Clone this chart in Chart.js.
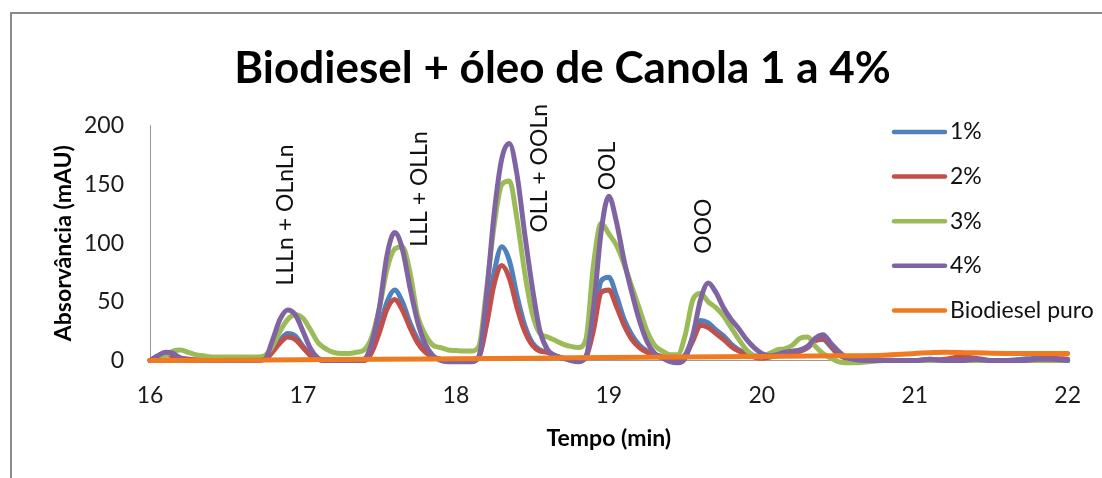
<!DOCTYPE html>
<html>
<head>
<meta charset="utf-8">
<script src="https://cdn.jsdelivr.net/npm/chart.js@4.4.1/dist/chart.umd.min.js"></script>
<style>
  html, body { margin: 0; padding: 0; background: #fff; }
  #wrap { position: relative; width: 1102px; height: 478px; overflow: hidden; }
  #frame { position: absolute; left: 10px; top: 12px; width: 1200px; height: 600px;
           border-left: 2px solid #8a8a8a; border-top: 2px solid #8a8a8a; }
  canvas { position: absolute; left: 0; top: 0; }
</style>
</head>
<body>
<div id="wrap">
  <div id="frame"></div>
  <canvas id="chart" width="1102" height="478"></canvas>
</div>
<script>
// retention time (min)
const times = [
  16.00, 16.05, 16.10, 16.15, 16.20, 16.25, 16.30, 16.35, 16.40, 16.45,
  16.50, 16.55, 16.60, 16.65, 16.70, 16.75, 16.80, 16.85, 16.90, 16.95,
  17.00, 17.05, 17.10, 17.15, 17.20, 17.25, 17.30, 17.35, 17.40, 17.45,
  17.50, 17.55, 17.60, 17.65, 17.70, 17.75, 17.80, 17.85, 17.90, 17.95,
  18.00, 18.05, 18.10, 18.15, 18.20, 18.25, 18.30, 18.35, 18.40, 18.45,
  18.50, 18.55, 18.60, 18.65, 18.70, 18.75, 18.80, 18.85, 18.90, 18.95,
  19.00, 19.05, 19.10, 19.15, 19.20, 19.25, 19.30, 19.35, 19.40, 19.45,
  19.50, 19.55, 19.60, 19.65, 19.70, 19.75, 19.80, 19.85, 19.90, 19.95,
  20.00, 20.05, 20.10, 20.15, 20.20, 20.25, 20.30, 20.35, 20.40, 20.45,
  20.50, 20.55, 20.60, 20.70, 20.80, 20.90, 21.00, 21.10, 21.20, 21.30,
  21.40, 21.50, 21.60, 21.70, 21.80, 21.90, 22.00
];

// absorbance (mAU) for each blend
const oil1 = [
  0, 3, 6, 5, 2, 1, 0.5, 0.5, 0.5, 0.5,
  0.5, 0.5, 0.5, 0.5, 0.5, 1, 8, 17, 23, 21,
  12, 5, 1, 0, 0, 0, 0, 0, 0, 8,
  28, 50, 60, 50, 32, 18, 8, 3, 1, 0,
  0, 0, 0, 3, 35, 75, 97, 85, 55, 30,
  15, 9, 7, 4, 2, 1, 0, 3, 30, 68,
  71, 55, 35, 22, 13, 8, 5, 3, 1, 1,
  5, 20, 34, 32, 26, 21, 14, 9, 6, 4,
  3, 3, 5, 6, 7, 8, 12, 17, 18, 12,
  5, 2, 1, 0, 0, 0, 0, 1, 0, 1,
  0, 0, 0, 1, 2, 1, 0
];
const oil2 = [
  0, 2, 5, 4, 2, 1, 0.5, 0.5, 0.5, 0.5,
  0.5, 0.5, 0.5, 0.5, 0.5, 1, 7, 15, 20, 18,
  11, 4, 1, 0, 0, 0, 0, 0, 0, 7,
  24, 44, 52, 43, 28, 15, 7, 3, 1, 0,
  0, 0, 0, 3, 30, 65, 81, 70, 45, 25,
  13, 8, 7, 4, 2, 1, 0, 3, 26, 58,
  60, 46, 30, 18, 11, 7, 5, 3, 1, 1,
  4, 17, 30, 28, 23, 18, 12, 8, 5, 3,
  2, 3, 4, 5, 7, 8, 11, 17, 19, 13,
  6, 2, 1, 0, 0, 0, 0, 0, 1, 3,
  2, 0, 0, 0, 1, 2, 1
];
const oil3 = [
  0, 1, 4, 8, 9, 7, 5, 4, 3, 3,
  3, 3, 3, 3, 3, 4, 12, 25, 35, 39,
  36, 26, 15, 10, 7, 6, 6, 7, 9, 20,
  45, 78, 95, 97, 75, 38, 22, 13, 11, 9,
  8.5, 8, 8, 12, 60, 115, 150, 153, 120, 75,
  40, 23, 20, 17, 14, 12, 11, 18, 82, 117,
  108, 98, 82, 63, 44, 25, 13, 8, 5, 5,
  22, 52, 57, 50, 45, 38, 28, 18, 9, 4,
  3, 6, 9, 10, 13, 19, 20, 12, 6, 2,
  -1, -2, -2, -1, 0, 0, 0, 0, 0, 0,
  0, 0, 0, 0, 0, 0, 0
];
const oil4 = [
  0, 4, 7, 6, 2, 0, 0, 0, 0, 0,
  0, 0, 0, 0, 0, 1, 17, 35, 43, 39,
  25, 10, 2, 0, 0, 0, 0, 0, 1, 15,
  45, 90, 109, 95, 62, 33, 14, 4, 0, -1,
  -1, -1, -1, 3, 55, 125, 172, 185, 158, 108,
  62, 25, 9, 4, 2, 0, -1, 3, 45, 110,
  140, 118, 85, 58, 34, 16, 6, 2, -1, -2,
  2, 22, 52, 66, 58, 45, 35, 27, 18, 11,
  6, 4, 5, 7, 8, 9, 12, 19, 22, 15,
  8, 3, 1, 0, 0, 0, 0, 1, 0, 0,
  1, 0, 0, 0, 1, 1, 0
];

// pure biodiesel baseline
const baseTimes = [16, 16.5, 17, 17.5, 18, 18.5, 19, 19.5, 20, 20.5, 20.8, 21, 21.2, 21.4, 21.6, 21.8, 22];
const baseValues = [0, 0.3, 0.7, 1, 1.5, 2, 2.5, 3, 3.5, 4, 4.5, 6, 7, 6.5, 6, 6, 6];

const seriesNames = ['1%', '2%', '3%', '4%', 'Biodiesel puro'];
const seriesColors = ['#4F81BD', '#C0504D', '#9BBB59', '#8064A2', '#EE7B22'];

// peak identification labels
const peakNames = ['LLLn + OLnLn', 'LLL + OLLn', 'OLL + OOLn', 'OOL', 'OOO'];
const peakTimes = [16.885, 17.76, 18.545, 18.995, 19.62];
const peakBase = [64, 97, 109, 145, 91];

const toPoints = (xs, ys) => xs.map((t, i) => ({ x: t, y: ys[i] }));

Chart.defaults.font.family = 'Lato';

const peakLabels = {
    id: 'peakLabels',
    afterDatasetsDraw(chart) {
        const { ctx, scales: { x, y } } = chart;
        ctx.save();
        ctx.font = '23px Lato';
        ctx.fillStyle = '#111';
        ctx.textAlign = 'left';
        ctx.textBaseline = 'middle';
        peakNames.forEach((name, i) => {
            ctx.save();
            ctx.translate(x.getPixelForValue(peakTimes[i]), y.getPixelForValue(peakBase[i]));
            ctx.rotate(-Math.PI / 2);
            ctx.fillText(name, 0, 0);
            ctx.restore();
        });
        ctx.restore();
    }
};

// legend sits on top of the plot, like the original
const sideLegend = {
    id: 'sideLegend',
    afterDraw(chart) {
        const ctx = chart.ctx;
        ctx.save();
        ctx.font = '23px Lato';
        ctx.textBaseline = 'middle';
        ctx.textAlign = 'left';
        chart.data.datasets.forEach((ds, i) => {
            const yy = 132 + i * 44.6;
            ctx.strokeStyle = ds.borderColor;
            ctx.lineWidth = 4.5;
            ctx.lineCap = 'round';
            ctx.beginPath();
            ctx.moveTo(894, yy);
            ctx.lineTo(945, yy);
            ctx.stroke();
            ctx.fillStyle = '#111';
            ctx.fillText(ds.label, 950, yy);
        });
        ctx.restore();
    }
};

const makeSet = (i, data, order) => ({
    label: seriesNames[i],
    data: data,
    borderColor: seriesColors[i],
    backgroundColor: seriesColors[i],
    borderWidth: 5,
    pointRadius: 0,
    cubicInterpolationMode: 'monotone',
    borderJoinStyle: 'round',
    borderCapStyle: 'round',
    clip: 8,
    order: order
});

new Chart(document.getElementById('chart').getContext('2d'), {
    type: 'line',
    data: {
        datasets: [
            makeSet(0, toPoints(times, oil1), 5),
            makeSet(1, toPoints(times, oil2), 4),
            makeSet(2, toPoints(times, oil3), 3),
            makeSet(3, toPoints(times, oil4), 2),
            makeSet(4, toPoints(baseTimes, baseValues), 1),
        ],
    },
    options: {
        responsive: false,
        animation: false,
        events: [],
        layout: { padding: { left: 50, right: 27, top: 0, bottom: 0 } },
        plugins: {
            legend: { display: false },
            tooltip: { enabled: false },
            title: {
                display: true,
                text: 'Biodiesel + óleo de Canola 1 a 4%',
                color: '#000',
                font: { family: 'Lato', size: 44, weight: 'bold' },
                padding: { top: 42, bottom: 31 },
            },
        },
        scales: {
            x: {
                type: 'linear',
                min: 16,
                max: 22,
                ticks: { stepSize: 1, color: '#1a1a1a', font: { size: 23 }, padding: 21 },
                grid: { display: false, drawTicks: false },
                border: { display: true, color: '#9a9a9a', width: 1 },
                title: {
                    display: true,
                    text: 'Tempo (min)',
                    color: '#000',
                    font: { size: 23, weight: 'bold' },
                    padding: { top: 0, bottom: 26 },
                },
                afterFit: (scale) => { scale.height = 117.5; },
            },
            y: {
                min: 0,
                max: 200,
                ticks: { stepSize: 50, color: '#1a1a1a', font: { size: 23 }, padding: 26 },
                grid: { display: false, drawTicks: false },
                border: { display: true, color: '#9a9a9a', width: 1 },
                title: {
                    display: true,
                    text: 'Absorvância (mAU)',
                    color: '#000',
                    font: { size: 23, weight: 'bold' },
                    padding: { top: 0, bottom: 0 },
                },
                afterFit: (scale) => { scale.width = 100; },
            },
        },
    },
    plugins: [peakLabels, sideLegend],
});
</script>
</body>
</html>
